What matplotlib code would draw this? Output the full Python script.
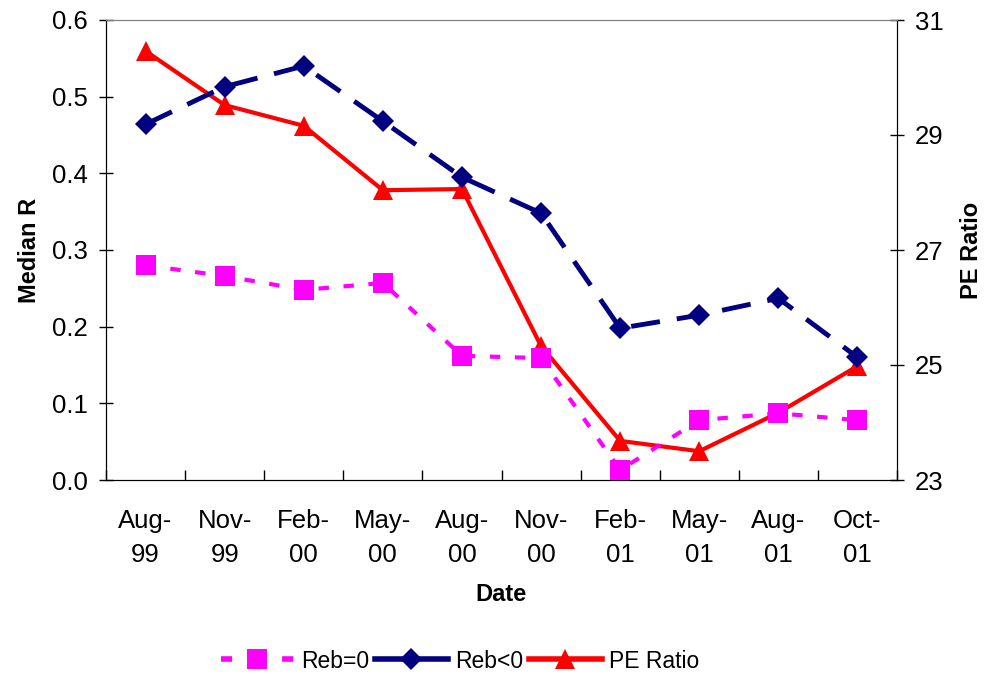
import matplotlib
matplotlib.use("Agg")
import matplotlib.pyplot as plt
from matplotlib.lines import Line2D

plt.rcParams['font.family'] = ['Liberation Sans', 'DejaVu Sans']

dates = ["Aug-\n99", "Nov-\n99", "Feb-\n00", "May-\n00", "Aug-\n00", "Nov-\n00",
         "Feb-\n01", "May-\n01", "Aug-\n01", "Oct-\n01"]
reb_zero = [0.280, 0.266, 0.248, 0.257, 0.162, 0.159, 0.013, 0.078, 0.087, 0.078]
reb_neg = [0.464, 0.513, 0.540, 0.468, 0.395, 0.348, 0.198, 0.215, 0.237, 0.160]
pe_ratio = [30.46, 29.52, 29.16, 28.04, 28.06, 25.33, 23.68, 23.50, 24.17, 24.98]

x = list(range(len(dates)))

fig = plt.figure(figsize=(9.87, 6.77), dpi=100)
ax = fig.add_axes([106/987, 1-480/677, (897-106)/987, 460/677])
ax2 = ax.twinx()

l1, = ax.plot(x, reb_zero, color='#FF00FF', lw=3, dashes=(2.5, 3.5), marker='s',
              markersize=14, markeredgewidth=0, label='Reb=0', zorder=3)
l2, = ax.plot(x, reb_neg, color='#000080', lw=3.5, dashes=(6, 3.5), marker='D',
              markersize=11, markeredgewidth=0, label='Reb<0', zorder=4)
l3, = ax2.plot(x, pe_ratio, color='#FF0000', lw=3, marker='^', markersize=15,
               markeredgewidth=0, label='PE Ratio', zorder=5)

ax.set_zorder(ax2.get_zorder() + 1)
ax.patch.set_visible(False)

ax.set_xlim(-0.5, len(dates) - 0.5)
ax.set_ylim(0, 0.6)
ax.set_yticks([0, 0.1, 0.2, 0.3, 0.4, 0.5, 0.6])
ax.set_yticklabels([f"{v:.1f}" for v in [0, 0.1, 0.2, 0.3, 0.4, 0.5, 0.6]])
ax2.set_ylim(23, 31)
ax2.set_yticks([23, 25, 27, 29, 31])

ax.set_xticks(x)
ax.set_xticklabels(dates, linespacing=1.5)
ax.tick_params(axis='x', length=0, pad=21, labelsize=18.5)
ax.set_xticks([i - 0.5 for i in range(len(dates) + 1)], minor=True)
ax.tick_params(axis='x', which='minor', length=7, direction='in', width=1)
ax.tick_params(axis='y', labelsize=18.5, direction='inout', length=10, width=1, pad=8)
ax2.tick_params(axis='y', labelsize=18.5, direction='inout', length=10, width=1, pad=8)

for a in (ax, ax2):
    a.spines['top'].set_color('#808080')
    a.spines['left'].set_color('black')
    a.spines['right'].set_color('black')
    a.spines['bottom'].set_color('black')

ax.set_xlabel('Date', fontsize=17, fontweight='bold', labelpad=12)
ax.set_ylabel('Median R', fontsize=17, fontweight='bold', labelpad=8)
ax2.set_ylabel('PE Ratio', fontsize=17, fontweight='bold', labelpad=12)

h1 = Line2D([], [], color='#FF00FF', lw=4, dashes=(2, 3.5), marker='s', markersize=14, markeredgewidth=0)
h2 = Line2D([], [], color='#000080', lw=4, marker='D', markersize=11, markeredgewidth=0)
h3 = Line2D([], [], color='#FF0000', lw=4, marker='^', markersize=15, markeredgewidth=0)
fig.legend([h1, h2, h3], ['Reb=0', 'Reb<0', 'PE Ratio'], loc='center',
           bbox_to_anchor=(460/987, 1-661/677), ncol=3, frameon=False, fontsize=16.5,
           handlelength=3.2, columnspacing=0.25, handletextpad=0.3)

fig.savefig('out.png', dpi=100)
